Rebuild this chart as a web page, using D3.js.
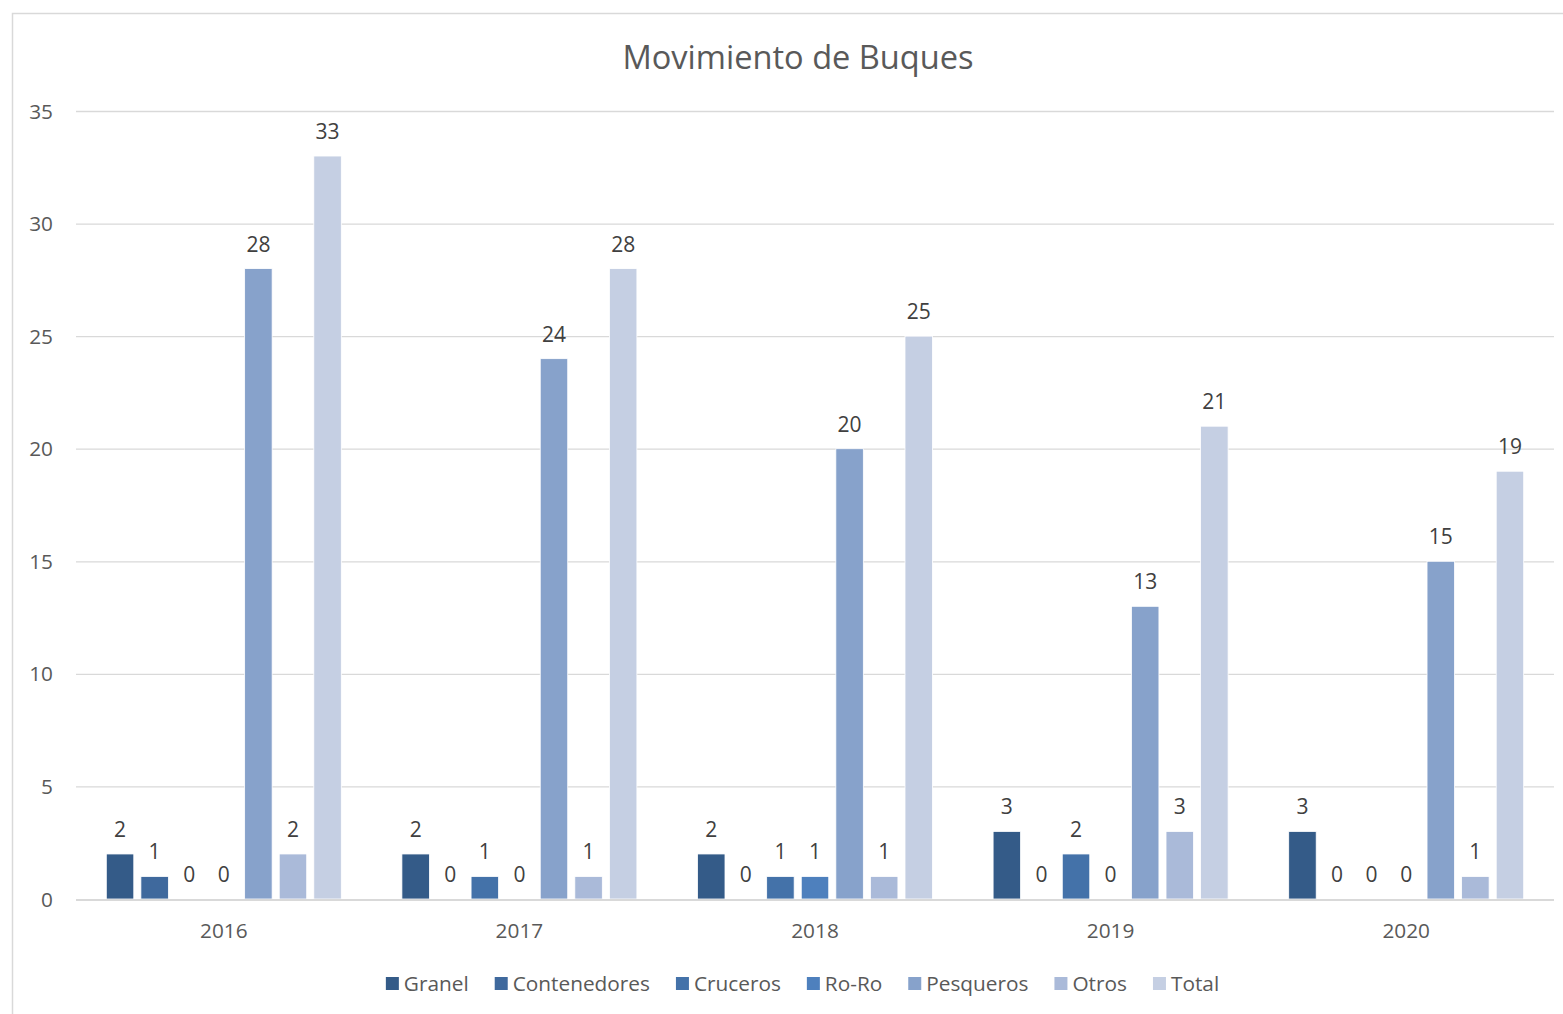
<!DOCTYPE html>
<html><head><meta charset="utf-8">
<script src="https://cdn.jsdelivr.net/npm/d3@7"></script>
<style>body{margin:0;background:#fff}svg{display:block;font-family:"Open Sans",sans-serif}</style>
</head><body>
<svg id="c" width="1563" height="1014"></svg>
<script>
const years = ["2016","2017","2018","2019","2020"];
const seriesNames = ["Granel","Contenedores","Cruceros","Ro-Ro","Pesqueros","Otros","Total"];
const granel = [2,2,2,3,3];
const contenedores = [1,0,0,0,0];
const cruceros = [0,1,1,2,0];
const roro = [0,0,1,0,0];
const pesqueros = [28,24,20,13,15];
const otros = [2,1,1,3,1];
const total = [33,28,25,21,19];
const yTicks = [0,5,10,15,20,25,30,35];
const colors = ["#345b88","#3f699d","#4472a9","#4e80bd","#87a2cb","#aabad9","#c5cfe3"];

(function(){
const values = [granel,contenedores,cruceros,roro,pesqueros,otros,total];
const svg = d3.select("#c");
svg.append("rect").attr("x",12.5).attr("y",13.5).attr("width",1600).attr("height",1100)
  .attr("fill","#fff").attr("stroke","#d9d9d9").attr("stroke-width",1.5);

const pl = 76, pr = 1554, pt = 111, pb = 899;
const fs = 20.8;
const x0 = d3.scaleBand().domain(years).range([pl,pr]);
const bw = x0.bandwidth();
const x1 = d3.scaleBand().domain(seriesNames).range([(bw-235)/2,(bw+235)/2]).paddingInner(0.205);
const y = d3.scaleLinear().domain([0,35]).range([pb,pt]);

svg.append("g").selectAll("line").data(yTicks.filter(d=>d>0)).join("line")
  .attr("x1",pl).attr("x2",pr).attr("y1",d=>y(d)+0.5).attr("y2",d=>y(d)+0.5)
  .attr("stroke","#d9d9d9").attr("stroke-width",1.3);
svg.append("g").selectAll("text").data(yTicks).join("text")
  .attr("x",53).attr("y",d=>y(d)+7.5).attr("text-anchor","end")
  .attr("font-size",fs).attr("fill","#595959").text(d=>d);

const g = svg.append("g");
years.forEach((yr,i)=>{
  const gg = g.append("g").attr("transform",`translate(${x0(yr)},0)`);
  seriesNames.forEach((s,j)=>{
    const v = values[j][i];
    if (v>0) gg.append("rect").attr("x",x1(s)).attr("width",x1.bandwidth())
      .attr("y",y(v)).attr("height",y(0)-y(v)).attr("fill",colors[j])
      .attr("stroke","#fff").attr("stroke-width",0.8);
    gg.append("text").attr("x",x1(s)+x1.bandwidth()/2).attr("y",y(v)-17)
      .attr("text-anchor","middle").attr("font-size",21).attr("fill","#404040").text(v);
  });
});

svg.append("line").attr("x1",pl).attr("x2",pr).attr("y1",pb+1).attr("y2",pb+1)
  .attr("stroke","#d9d9d9").attr("stroke-width",2);
svg.append("g").selectAll("text").data(years).join("text")
  .attr("x",d=>x0(d)+bw/2).attr("y",937.5).attr("text-anchor","middle")
  .attr("font-size",fs).attr("fill","#595959").text(d=>d);

svg.append("text").attr("x",798).attr("y",69).attr("text-anchor","middle")
  .attr("font-size",32.6).attr("fill","#595959").text("Movimiento de Buques");

const lg = svg.append("g");
let cx = 0;
seriesNames.forEach((s,j)=>{
  const it = lg.append("g").attr("transform",`translate(${cx},0)`);
  it.append("rect").attr("x",0).attr("y",-6).attr("width",13).attr("height",13).attr("fill",colors[j]);
  const t = it.append("text").attr("x",18).attr("y",8).attr("font-size",fs).attr("fill","#595959").text(s);
  cx += 18 + t.node().getComputedTextLength() + 26;
});
const totalW = cx - 26;
lg.attr("transform",`translate(${802.5 - totalW/2},983)`);
})();
</script>
</body></html>
